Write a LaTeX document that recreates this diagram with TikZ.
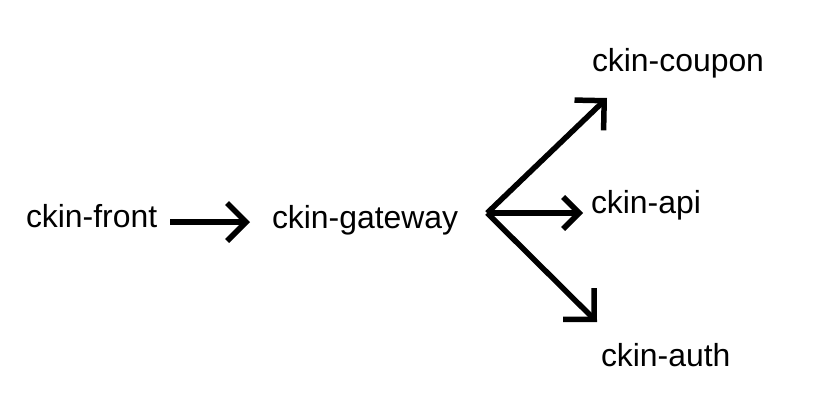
\documentclass[tikz,border=0pt]{standalone}
\usepackage{fontspec}
\setmainfont{Liberation Sans}
\usetikzlibrary{arrows.meta}
\begin{document}
\begin{tikzpicture}[x=1pt,y=-1pt,
  lbl/.style={anchor=base west,inner sep=0pt,outer sep=0pt,font=\fontsize{31.9}{36}\selectfont},
  arr/.style={line width=5.5pt,line join=miter,-{Straight Barb[length=#1,width=2*#1,line join=miter]}},
  arr/.default=21pt]
\fill[white] (0,0) rectangle (832,394);
\useasboundingbox (0,0) rectangle (832,394);
\node[lbl] (front) at (26,227) {ckin-front};
\node[lbl] (gateway) at (272,228) {ckin-gateway};
\node[lbl] (coupon) at (592,71) {ckin-coupon};
\node[lbl] (api) at (591,213) {ckin-api};
\node[lbl] (auth) at (601,366) {ckin-auth};
\coordinate (hub) at ([shift={(29,-15)}]gateway.base east);
\coordinate (tcoupon) at ([shift={(15,27)}]coupon.base west);
\coordinate (tapi) at ([shift={(-8,0)}]api.base west);
\coordinate (tauth) at ([shift={(-4,-44)}]auth.base west);
\draw[arr=19pt] ([shift={(13,-5)}]front.base east) -- ([shift={(-22,-6)}]gateway.base west);
\draw[arr=21pt] (hub) -- (tcoupon);
\draw[arr=16pt] (hub) -- (tapi);
\draw[arr=22pt] (hub) -- (tauth);
\end{tikzpicture}
\end{document}
